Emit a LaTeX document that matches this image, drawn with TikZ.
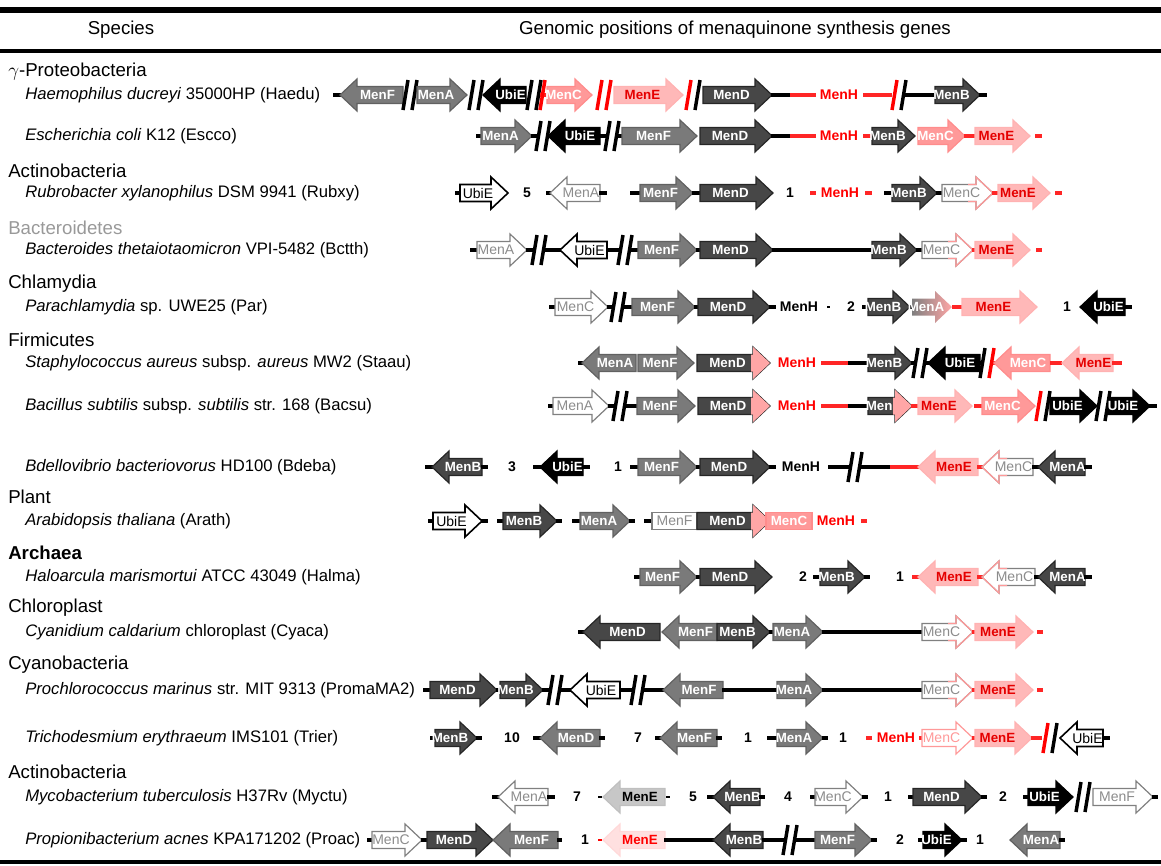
\documentclass[tikz,border=0pt]{standalone}
\usepackage{fontspec}
\setmainfont{Liberation Sans}
\usetikzlibrary{positioning}

% gene map helpers (coordinates in pixels, current row height in \ry)
\newcounter{gn}
\def\ry{0}
\newcommand\gR[4]{\stepcounter{gn}%
  \path[gene,#3] (#1,\ry-8.5) -- (#2-17,\ry-8.5) -- (#2-17,\ry-16) -- (#2,\ry)
    -- (#2-17,\ry+16) -- (#2-17,\ry+8.5) -- (#1,\ry+8.5) -- cycle;
  \node[glab,#3 txt] (g\thegn) at ({(#1+#2-12)/2},\ry) {#4};}
\newcommand\gL[4]{\stepcounter{gn}%
  \path[gene,#3] (#2,\ry-8.5) -- (#1+17,\ry-8.5) -- (#1+17,\ry-16) -- (#1,\ry)
    -- (#1+17,\ry+16) -- (#1+17,\ry+8.5) -- (#2,\ry+8.5) -- cycle;
  \node[glab,#3 txt] (g\thegn) at ({(#1+#2+12)/2},\ry) {#4};}
\newcommand\gB[4]{\stepcounter{gn}%
  \path[gene,#3] (#1,\ry-8.5) rectangle (#2,\ry+8.5);
  \node[glab,#3 txt] (g\thegn) at ({(#1+#2)/2},\ry) {#4};}
\newcommand\hR[1]{\fill[red!35] (#1-19,\ry-8.5) -- (#1-17,\ry-8.5) -- (#1-17,\ry-16)
    -- (#1,\ry) -- (#1-17,\ry+16) -- (#1-17,\ry+8.5) -- (#1-19,\ry+8.5) -- cycle;}
\newcommand\oR[1]{\draw[gene,draw=red!40] (#1-25,\ry-8.5) -- (#1-17,\ry-8.5) -- (#1-17,\ry-16)
    -- (#1,\ry) -- (#1-17,\ry+16) -- (#1-17,\ry+8.5) -- (#1-25,\ry+8.5);}
\newcommand\oL[1]{\draw[gene,draw=red!40] (#1+25,\ry-8.5) -- (#1+17,\ry-8.5) -- (#1+17,\ry-16)
    -- (#1,\ry) -- (#1+17,\ry+16) -- (#1+17,\ry+8.5) -- (#1+25,\ry+8.5);}
\newcommand\seg[3][gline]{\draw[#1] (#2,\ry) -- (#3,\ry);}
\newcommand\brk[3]{\draw[bar,#2] (#1-7,\ry+15) -- (#1-2,\ry-15);
  \draw[bar,#3] (#1+2,\ry+15) -- (#1+7,\ry-15);}
\newcommand\gap[2]{\stepcounter{gn}\node[num] (t\thegn) at (#1,\ry) {#2};}
\newcommand\mh[2]{\stepcounter{gn}\node[num,#2] (t\thegn) at (#1,\ry) {MenH};}

\begin{document}
\begin{tikzpicture}[x=0.75pt,y=-0.75pt,
  gene/.style={line width=0.9pt,line join=miter},
  glab/.style={inner sep=0pt,font=\fontsize{10}{10}\selectfont\bfseries},
  gdark/.style={fill=black!72,draw=black!85},  gdark txt/.style={white},
  gmid/.style={fill=black!52,draw=black!62},   gmid txt/.style={white},
  gblack/.style={fill=black,draw=black},       gblack txt/.style={white},
  gopen/.style={fill=white,draw=black,line width=1.2pt},
  gopen txt/.style={black,font=\fontsize{10.5}{10}\selectfont},
  ggray/.style={fill=white,draw=black!50},
  ggray txt/.style={black!45,font=\fontsize{10.5}{10}\selectfont},
  gpink/.style={fill=red!28,draw=red!30},      gpink txt/.style={red!90!black},
  gpinkw/.style={fill=red!40,draw=red!45},     gpinkw txt/.style={white},
  gpinko/.style={fill=white,draw=red!40},
  gpinko txt/.style={red!40,font=\fontsize{10.5}{10}\selectfont},
  gmix/.style={left color=black!50,right color=red!35,draw=none},
  gmix txt/.style={white},
  gfade/.style={fill=black!22,draw=black!25},  gfade txt/.style={black},
  gfadep/.style={fill=red!12,draw=red!15},     gfadep txt/.style={red},
  gline/.style={line width=2.6pt},
  rline/.style={line width=2.6pt,red!85},
  bar/.style={line width=2.6pt},
  num/.style={inner sep=0pt,font=\fontsize{10.5}{11}\selectfont\bfseries},
  sp/.style={anchor=west,inner sep=0pt,font=\fontsize{12.5}{14}\selectfont},
  grp/.style={anchor=west,inner sep=0pt,font=\fontsize{14}{15}\selectfont},
  head/.style={inner sep=0pt,font=\fontsize{14}{15}\selectfont}]
\useasboundingbox (0,0) rectangle (1161,865);

% table rules and header
\draw[line width=4pt] (0,10) -- (1161,10);
\draw[line width=3.5pt] (0,51) -- (1161,51);
\draw[line width=2.5pt] (0,862) -- (1161,862);
\node[head] (hsp) at (121,30) {Species};
\node[head] (hgen) at (735,30) {Genomic positions of menaquinone synthesis genes};

% group labels
\node[grp] (gam) at (8,72) {$\gamma$-Proteobacteria};
\node[grp] (act1) at (8,171) {Actinobacteria};
\node[grp,black!40] (bac) at (8,228) {Bacteroidetes};
\node[grp] (chl) at (8,284) {Chlamydia};
\node[grp] (fir) at (8,340) {Firmicutes};
\node[grp] (pla) at (8,497) {Plant};
\node[grp,font=\fontsize{14}{15}\selectfont\bfseries] (arc) at (8,553) {Archaea};
\node[grp] (cpl) at (8,608) {Chloroplast};
\node[grp] (cya) at (8,665) {Cyanobacteria};
\node[grp] (act2) at (8,772) {Actinobacteria};

% species
\node[sp] (haedu) at (25,95) {\textit{Haemophilus ducreyi} 35000HP (Haedu)};
\node[sp] (escco) at (25,136) {\textit{Escherichia coli} K12 (Escco)};
\node[sp] (rubxy) at (25,193) {\textit{Rubrobacter xylanophilus} DSM 9941 (Rubxy)};
\node[sp] (bctth) at (25,250) {\textit{Bacteroides thetaiotaomicron} VPI-5482 (Bctth)};
\node[sp] (par) at (25,307) {\textit{Parachlamydia} sp. UWE25 (Par)};
\node[sp] (staau) at (25,363) {\textit{Staphylococcus aureus} subsp. \textit{aureus} MW2 (Staau)};
\node[sp] (bacsu) at (25,406) {\textit{Bacillus subtilis} subsp. \textit{subtilis} str. 168 (Bacsu)};
\node[sp] (bdeba) at (25,467) {\textit{Bdellovibrio bacteriovorus} HD100 (Bdeba)};
\node[sp] (arath) at (25,521) {\textit{Arabidopsis thaliana} (Arath)};
\node[sp] (halma) at (25,577) {\textit{Haloarcula marismortui} ATCC 43049 (Halma)};
\node[sp] (cyaca) at (25,632) {\textit{Cyanidium caldarium} chloroplast (Cyaca)};
\node[sp] (proma) at (25,690) {\textit{Prochlorococcus marinus} str. MIT 9313 (PromaMA2)};
\node[sp] (trier) at (25,738) {\textit{Trichodesmium erythraeum} IMS101 (Trier)};
\node[sp] (myctu) at (25,797) {\textit{Mycobacterium tuberculosis} H37Rv (Myctu)};
\node[sp] (proac) at (25,840) {\textit{Propionibacterium acnes} KPA171202 (Proac)};

% Haedu
\def\ry{95}
\seg[line width=3pt]{333}{342}
\gL{340}{403}{gmid}{MenF} \brk{410}{}{}
\gR{417}{467}{gmid}{MenA} \brk{476}{}{}
\gL{483}{526}{gblack}{UbiE} \brk{534}{}{}
\seg[rline]{540}{548} \draw[bar,red] (540,\ry+15) -- (545,\ry-15);
\gR{547}{592}{gpinkw}{MenC} \brk{604}{red}{red}
\gR{614}{683}{gpink}{MenE} \brk{693}{red}{}
\gR{703}{772}{gdark}{MenD}
\seg{771}{790} \seg[rline]{790}{816} \mh{839}{red} \seg[rline]{863}{892}
\brk{899}{red}{} \seg{905}{936}
\gR{935}{980}{gdark}{MenB} \seg[line width=3pt]{979}{987}

% Escco
\def\ry{136}
\seg[line width=3pt]{476}{483}
\gR{481}{532}{gmid}{MenA} \seg{531}{537} \brk{543}{}{} \seg{549}{552}
\gL{548}{600}{gblack}{UbiE} \seg{599}{606} \brk{612}{}{} \seg{618}{624}
\gR{622}{697}{gmid}{MenF}
\gR{700}{772}{gdark}{MenD}
\seg{771}{790} \seg[rline]{790}{816} \mh{839}{red} \seg[rline]{863}{873}
\gR{872}{915}{gdark}{MenB}
\gR{918}{965}{gpinkw}{MenC} \seg[rline]{964}{976}
\gR{975}{1030}{gpink}{MenE} \seg[rline]{1035}{1042}

% Rubxy
\def\ry{193}
\seg[line width=3pt]{455}{462}
\gR{460}{508}{gopen}{UbiE} \gap{527}{5}
\seg[line width=3pt]{546}{552}
\gL{550}{600}{ggray}{MenA} \seg[line width=3pt]{599}{607}
\seg[line width=3pt]{630}{642}
\gR{640}{693}{gmid}{MenF} \seg[line width=3pt]{692}{701}
\gR{700}{773}{gdark}{MenD} \gap{790}{1}
\seg[rline]{810}{816} \mh{840}{red} \seg[rline]{865}{872}
\seg[line width=3pt]{884}{894}
\gR{892}{937}{gdark}{MenB} \seg[line width=3pt]{936}{943}
\gR{942}{993}{ggray}{MenC} \oR{993} \seg[rline]{992}{999}
\gR{998}{1050}{gpink}{MenE} \seg[rline]{1055}{1062}

% Bctth
\def\ry{250}
\seg[line width=3pt]{470}{478}
\gR{477}{527}{ggray}{MenA} \seg{526}{533} \brk{539}{}{} \seg{545}{561}
\gL{560}{607}{gopen}{UbiE} \seg{606}{619} \brk{625}{}{} \seg{631}{639}
\gR{638}{697}{gmid}{MenF} \seg[line width=3pt]{696}{701}
\gR{700}{773}{gdark}{MenD} \seg{772}{873}
\gR{872}{917}{gdark}{MenB} \seg[line width=3pt]{916}{923}
\gR{922}{973}{ggray}{MenC} \oR{973} \seg[rline]{972}{976}
\gR{975}{1030}{gpink}{MenE} \seg[rline]{1036}{1042}

% Par
\def\ry{307}
\seg[line width=3pt]{549}{556}
\gR{555}{608}{ggray}{MenC} \seg{607}{612} \brk{618}{}{} \seg{624}{633}
\gR{632}{695}{gmid}{MenF} \seg[line width=3pt]{694}{699}
\gR{698}{770}{gdark}{MenD} \seg[line width=3pt]{769}{776}
\mh{799}{} \seg[line width=2pt]{827}{830} \gap{851}{2}
\seg[line width=3pt]{862}{869}
\gR{868}{910}{gdark}{MenB} \seg[line width=3pt]{909}{913}
\gR{912}{952}{gmix}{MenA} \seg[rline]{952}{962}
\gR{962}{1037}{gpink}{MenE} \gap{1067}{1}
\gL{1080}{1125}{gblack}{UbiE} \seg[line width=3pt]{1124}{1132}

% Staau
\def\ry{363}
\seg[line width=3pt]{578}{584}
\gL{582}{636}{gmid}{MenA}
\gR{638}{694}{gmid}{MenF}
\gR{697}{770}{gdark}{MenD} \hR{770}
\mh{797}{red} \seg[rline]{821}{848} \seg{848}{869}
\gR{868}{912}{gdark}{MenB} \seg{911}{914} \brk{920}{}{} \seg{926}{929}
\gL{928}{980}{gblack}{UbiE} \seg{979}{981} \brk{987}{}{red} \seg[rline]{993}{995}
\gL{994}{1050}{gpinkw}{MenC} \seg[rline]{1050}{1062}
\gL{1062}{1113}{gpink}{MenE} \seg[rline]{1112}{1122}

% Bacsu
\def\ry{406}
\seg[line width=3pt]{548}{555}
\gR{553}{609}{ggray}{MenA} \seg{608}{614} \brk{620}{}{} \seg{626}{638}
\gR{637}{695}{gmid}{MenF}
\gR{698}{770}{gdark}{MenD} \hR{770}
\mh{797}{red} \seg[rline]{821}{848} \seg{848}{869}
\gR{868}{912}{gdark}{MenB} \hR{912} \seg[rline]{911}{919}
\gR{918}{972}{gpink}{MenE} \seg[rline]{974}{982}
\gR{982}{1035}{gpinkw}{MenC} \brk{1043}{red}{}
\gR{1050}{1097}{gblack}{UbiE} \brk{1103}{}{}
\gR{1108}{1150}{gblack}{UbiE} \seg[line width=3pt]{1149}{1157}

% Bdeba
\def\ry{467}
\seg[line width=3pt]{425}{433}
\gL{432}{482}{gdark}{MenB} \seg[line width=3pt]{481}{488}
\gap{512}{3}
\seg[line width=3pt]{533}{541}
\gL{540}{583}{gblack}{UbiE} \seg[line width=3pt]{582}{590}
\gap{618}{1}
\seg[line width=3pt]{630}{640}
\gR{638}{697}{gmid}{MenF} \seg[line width=3pt]{696}{701}
\gR{700}{770}{gdark}{MenD} \seg[line width=3pt]{769}{776}
\mh{801}{} \seg{828}{849} \brk{855}{}{} \seg{861}{890} \seg[rline]{890}{919}
\gL{918}{978}{gpink}{MenE} \seg[rline]{977}{983}
\gL{982}{1033}{ggray}{MenC} \oL{982} \seg[line width=3pt]{1032}{1039}
\gL{1038}{1085}{gdark}{MenA} \seg[line width=3pt]{1084}{1092}

% Arath
\def\ry{521}
\seg[line width=3pt]{428}{435}
\gR{433}{482}{gopen}{UbiE} \seg[line width=3pt]{481}{488}
\seg[line width=3pt]{497}{505}
\gR{503}{557}{gdark}{MenB} \seg[line width=3pt]{556}{562}
\seg[line width=3pt]{572}{582}
\gR{580}{630}{gmid}{MenA} \seg[line width=3pt]{629}{635}
\seg[line width=3pt]{644}{653}
\gB{652}{697}{ggray}{MenF}
\gR{697}{770}{gdark}{MenD} \hR{770}
\gB{766}{812}{gpinkw}{MenC}
\mh{836}{red} \seg[rline]{861}{867}

% Halma
\def\ry{577}
\seg[line width=3pt]{634}{642}
\gR{640}{697}{gmid}{MenF} \seg[line width=3pt]{696}{701}
\gR{700}{772}{gdark}{MenD} \gap{803}{2}
\seg[line width=3pt]{813}{821}
\gR{820}{865}{gdark}{MenB} \seg[line width=3pt]{864}{870}
\gap{900}{1}
\seg[rline]{912}{919}
\gL{918}{978}{gpink}{MenE} \seg[rline]{977}{983}
\gL{982}{1035}{ggray}{MenC} \oL{982} \seg[line width=3pt]{1034}{1039}
\gL{1038}{1085}{gdark}{MenA} \seg[line width=3pt]{1084}{1092}

% Cyaca
\def\ry{632}
\seg[line width=3pt]{578}{585}
\gL{583}{660}{gdark}{MenD}
\gL{662}{717}{gmid}{MenF}
\gR{717}{770}{gdark}{MenB} \seg[line width=3pt]{769}{774}
\gR{773}{823}{gmid}{MenA} \seg{822}{923}
\gR{922}{973}{ggray}{MenC} \oR{973} \seg[rline]{972}{976}
\gR{975}{1033}{gpink}{MenE} \seg[rline]{1037}{1043}

% Proma
\def\ry{690}
\seg[line width=3pt]{423}{431}
\gR{430}{497}{gdark}{MenD} \seg[line width=3pt]{496}{501}
\gR{500}{543}{gdark}{MenB} \seg{542}{549} \brk{555}{}{} \seg{561}{571}
\gL{570}{620}{gopen}{UbiE} \seg{619}{632} \brk{638}{}{} \seg{644}{664}
\gL{663}{723}{gmid}{MenF} \seg{722}{778}
\gR{777}{823}{gmid}{MenA} \seg{822}{923}
\gR{922}{973}{ggray}{MenC} \oR{973} \seg[rline]{972}{976}
\gR{975}{1033}{gpink}{MenE} \seg[rline]{1037}{1043}

% Trier
\def\ry{738}
\seg[line width=3pt]{430}{437}
\gR{435}{477}{gdark}{MenB} \seg[line width=3pt]{476}{482}
\gap{512}{10}
\seg[line width=3pt]{533}{541}
\gL{540}{600}{gmid}{MenD} \seg[line width=3pt]{599}{605}
\gap{638}{7}
\seg[line width=3pt]{655}{662}
\gL{660}{717}{gmid}{MenF} \seg[line width=3pt]{716}{722}
\gap{748}{1}
\seg[line width=3pt]{767}{779}
\gR{777}{823}{gmid}{MenA} \seg[line width=3pt]{822}{828}
\gap{843}{1}
\seg[rline]{866}{872} \mh{896}{red} \seg[rline]{919}{923}
\gR{922}{973}{gpinko}{MenC} \seg[rline]{972}{976}
\gR{975}{1032}{gpink}{MenE} \seg[rline]{1031}{1042}
\brk{1050}{red}{}
\gL{1060}{1103}{gopen}{UbiE} \seg[line width=3pt]{1102}{1110}

% Myctu
\def\ry{797}
\seg[line width=3pt]{492}{499}
\gL{498}{548}{ggray}{MenA} \seg[line width=3pt]{547}{555}
\gap{577}{7}
\seg[line width=2pt]{598}{602}
\gL{603}{665}{gfade}{MenE} \seg[line width=2pt]{666}{670}
\gap{693}{5}
\seg[line width=3pt]{707}{715}
\gL{713}{760}{gdark}{MenB} \seg[line width=3pt]{759}{765}
\gap{788}{4}
\seg[line width=3pt]{810}{817}
\gR{815}{863}{ggray}{MenC} \seg[line width=3pt]{862}{868}
\gap{888}{1}
\seg[line width=3pt]{908}{915}
\gR{913}{982}{gdark}{MenD} \seg[line width=3pt]{981}{987}
\gap{1003}{2}
\seg[line width=3pt]{1023}{1030}
\gR{1028}{1073}{gblack}{UbiE} \brk{1083}{}{}
\gR{1093}{1153}{ggray}{MenF} \seg[line width=3pt]{1152}{1158}

% Proac
\def\ry{840}
\seg[line width=3pt]{367}{374}
\gR{372}{422}{ggray}{MenC} \seg[line width=3pt]{421}{428}
\gR{427}{493}{gdark}{MenD}
\gL{493}{558}{gmid}{MenF} \seg[line width=3pt]{557}{562}
\gap{585}{1}
\seg[line width=2pt,red]{598}{602}
\gL{603}{665}{gfadep}{MenE} \seg{664}{714}
\gL{713}{763}{gdark}{MenB} \seg{762}{784} \brk{790}{}{} \seg{796}{816}
\gR{815}{872}{gmid}{MenF} \seg[line width=3pt]{871}{877}
\gap{900}{2}
\seg[line width=3pt]{918}{925}
\gR{923}{962}{gblack}{UbiE} \seg[line width=3pt]{961}{967}
\gap{980}{1}
\gL{1010}{1060}{gmid}{MenA} \seg[line width=3pt]{1059}{1065}
\end{tikzpicture}
\end{document}
